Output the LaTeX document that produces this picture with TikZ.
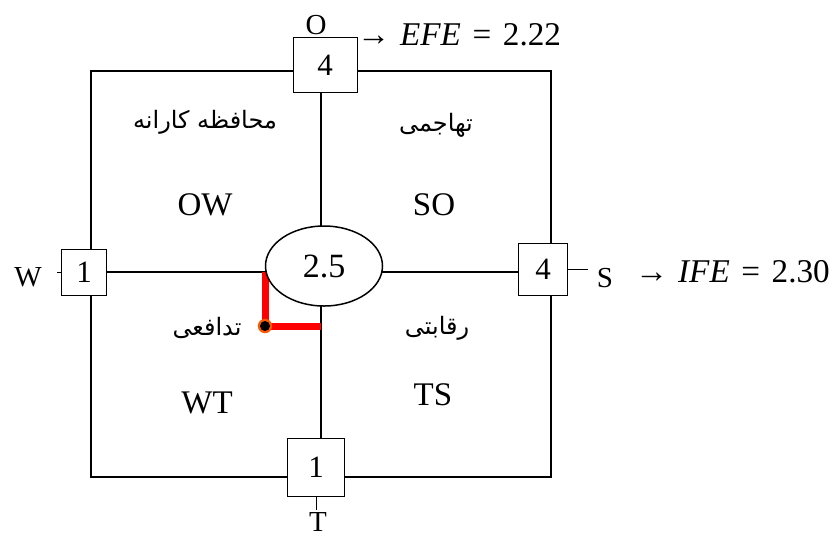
\documentclass[tikz,border=0pt]{standalone}
\usepackage{fontspec}
\setmainfont{Liberation Serif}
\newfontfamily\fafont[Script=Arabic]{DejaVu Sans}
\TeXXeTstate=1
\usetikzlibrary{shapes.geometric}
\tikzset{
    numbox/.style={draw, fill=white, line width=0.5pt, inner sep=0pt, font=\fontsize{15.5}{15.5}\selectfont},
    quad/.style={font=\fontsize{16.5}{16.5}\selectfont},
    strat/.style={font=\fafont\fontsize{12}{12}\selectfont},
    axislabel/.style={font=\fontsize{14.5}{14.5}\selectfont},
    result/.style={anchor=base west, inner sep=0pt, font=\fontsize{16.6}{16.6}\selectfont},
    redpath/.style={red, line width=3.5pt}
}
\begin{document}
\begin{tikzpicture}[x=0.5pt, y=-0.5pt, line width=1pt]
\useasboundingbox (0,0) rectangle (836,537);
\draw (91,71) rectangle (551,477);
\node[numbox, minimum width=32pt, minimum height=27.5pt] (top) at (325,65) {4};
\node[numbox, minimum width=22.5pt, minimum height=23pt] (left) at (84,272) {1};
\node[numbox, minimum width=24.5pt, minimum height=26pt] (right) at (543,269) {4};
\node[numbox, minimum width=28.5pt, minimum height=29pt] (bot) at (316,467) {1};
\coordinate (c) at (321,272);
\draw (top.south -| c) -- (bot.north -| c);
\draw (left.east |- c) -- (right.west |- c);
\coordinate (dot) at (265,326);
\draw[redpath] (dot |- c) -- (dot) -- (dot -| c);
\node[draw, ellipse, fill=white, line width=0.75pt, inner sep=0pt,
      minimum width=58.5pt, minimum height=40pt, font=\fontsize{17}{17}\selectfont] (mid) at (324,266) {2.5};
\fill[orange!70!red] (dot) circle (3.6pt);
\fill (dot) circle (2.5pt);
\node[axislabel] (lo) at (316,25) {O};
\node[axislabel] (lw) at (28,277) {W};
\node[axislabel] (ls) at (605,278) {S};
\node[axislabel] (lt) at (318,522) {T};
\draw[line width=0.5pt] (left.west) -- ++(-4,0);
\draw[line width=0.5pt] (right.east) -- ++(20,0);
\draw[line width=0.5pt] (bot.south) -- ++(0,13);
\node[result] (efe) at (356,45) {→\hspace{0.3em}\textit{EFE}\hspace{0.35em}=\hspace{0.35em}2.22};
\node[result] (ife) at (634,282) {→\hspace{0.3em}\textit{IFE}\hspace{0.35em}=\hspace{0.35em}2.30};
\node[strat] (conservative) at (205,122) {\beginR محافظه کارانه\endR};
\node[strat] (aggressive) at (436,125) {\beginR تهاجمی\endR};
\node[strat] (defensive) at (207,328) {\beginR تدافعی\endR};
\node[strat] (competitive) at (437,328) {\beginR رقابتی\endR};
\node[quad] (ow) at (205,205) {OW};
\node[quad] (so) at (434,205) {SO};
\node[quad] (wt) at (207,403) {WT};
\node[quad] (ts) at (433,395) {TS};
\end{tikzpicture}
\end{document}
